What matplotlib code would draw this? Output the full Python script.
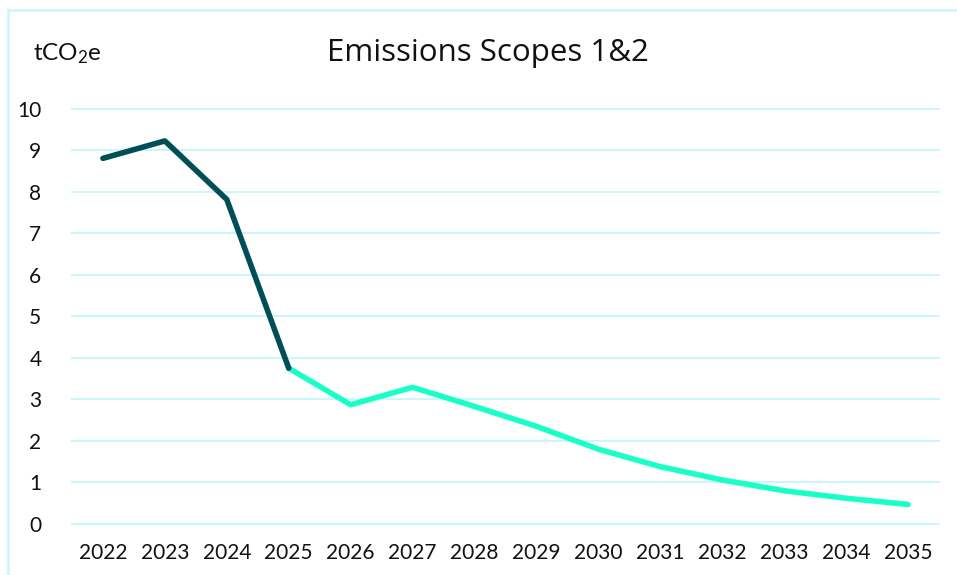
import matplotlib.pyplot as plt
from matplotlib.lines import Line2D

years = ["2022", "2023", "2024", "2025", "2026", "2027", "2028",
         "2029", "2030", "2031", "2032", "2033", "2034", "2035"]
actual = [8.80, 9.22, 7.81, 3.75]
target = [3.75, 2.87, 3.29, 2.83, 2.35, 1.80, 1.38, 1.06, 0.80, 0.62, 0.47]
yticks = [0, 1, 2, 3, 4, 5, 6, 7, 8, 9, 10]

DARK = "#004F58"
BRIGHT = "#1AFFC8"
GRID = "#C8F7FC"

plt.rcParams["font.family"] = ["Lato", "DejaVu Sans"]
plt.rcParams["mathtext.default"] = "regular"

fig = plt.figure(figsize=(9.57, 5.75), dpi=100)
ax = fig.add_axes([0.0752, 0.0887, 0.9060, 0.7226])

x_actual = list(range(len(actual)))
x_target = list(range(len(actual) - 1, len(years)))
ax.plot(x_target, target, color=BRIGHT, lw=4.0, solid_capstyle="round",
        solid_joinstyle="round", zorder=3)
ax.plot(x_actual, actual, color=DARK, lw=4.0, solid_capstyle="round",
        solid_joinstyle="round", zorder=4)

ax.set_xlim(-0.5, len(years) - 0.5)
ax.set_ylim(0, 10)
ax.set_xticks(range(len(years)))
ax.set_xticklabels(years)
ax.set_yticks(yticks)
ax.set_yticklabels([str(v) for v in yticks])
ax.tick_params(axis="both", length=0, labelsize=15, colors="#111111")
ax.tick_params(axis="y", pad=22)
ax.tick_params(axis="x", pad=14)
for v in yticks:
    ax.axhline(v, color=GRID, lw=1.4, zorder=1, clip_on=False)
for s in ax.spines.values():
    s.set_visible(False)

fig.text(0.510, 0.908, "Emissions Scopes 1&2", ha="center", va="center",
         fontsize=22.5, color="#111111", family=["Open Sans", "DejaVu Sans"])
fig.text(0.034, 0.906, "tCO$_2$e", ha="left", va="center",
         fontsize=17.5, color="#111111")

# chart frame (top and left edges visible in the crop)
fig.add_artist(Line2D([0.0085, 1.0], [1 - 10 / 575, 1 - 10 / 575],
                      transform=fig.transFigure, color=GRID, lw=1.8))
fig.add_artist(Line2D([0.0085, 0.0085], [0.0, 1 - 10 / 575],
                      transform=fig.transFigure, color=GRID, lw=1.8))

fig.savefig("out.png", dpi=100)
